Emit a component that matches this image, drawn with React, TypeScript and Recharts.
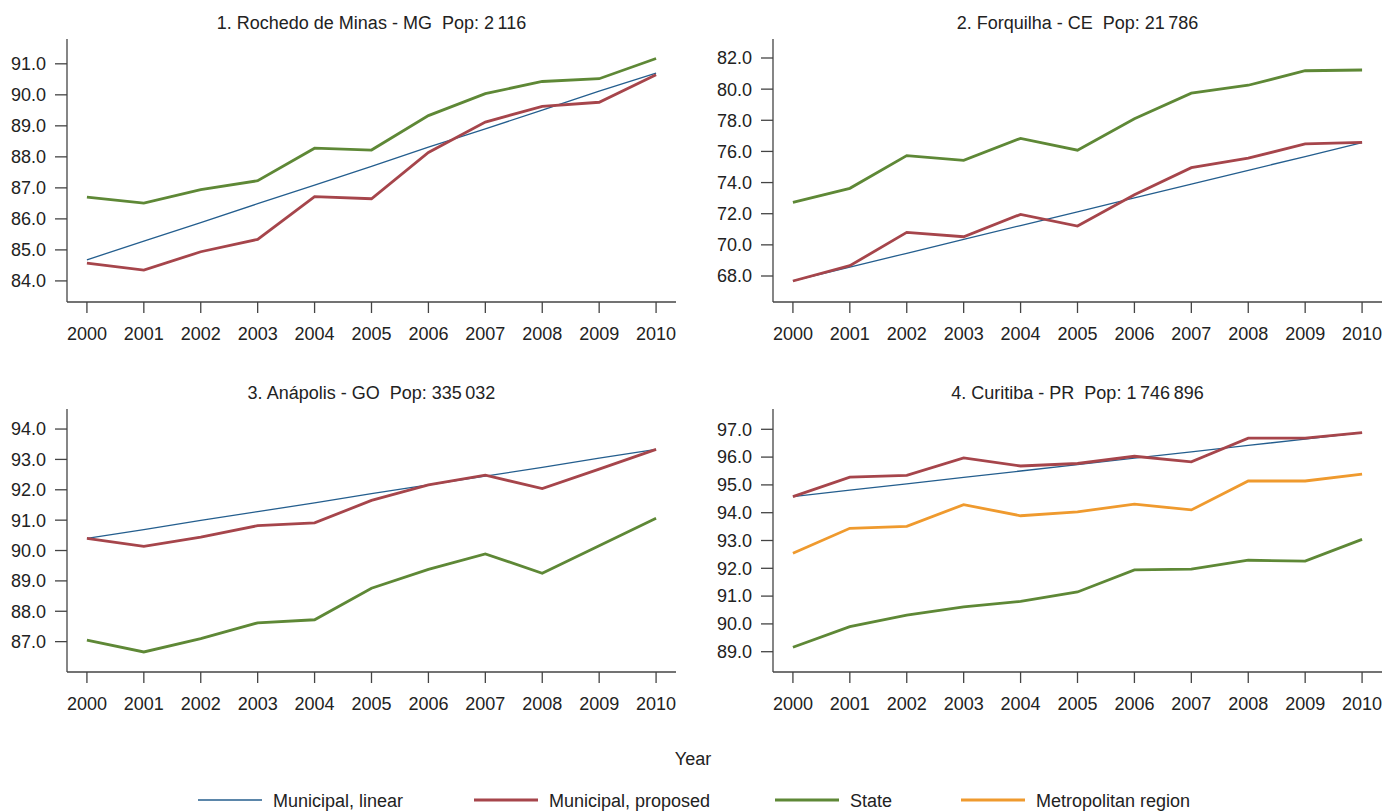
import React from 'react';
import { Line, LineChart, XAxis, YAxis } from 'recharts';

const years = [2000, 2001, 2002, 2003, 2004, 2005, 2006, 2007, 2008, 2009, 2010];

// 1. Rochedo de Minas - MG
const p1Linear = [84.68, 85.28, 85.88, 86.49, 87.09, 87.69, 88.31, 88.9, 89.51, 90.12, 90.7];
const p1Proposed = [84.57, 84.35, 84.94, 85.34, 86.72, 86.65, 88.14, 89.12, 89.63, 89.76, 90.65];
const p1State = [86.7, 86.51, 86.94, 87.23, 88.28, 88.22, 89.33, 90.04, 90.43, 90.52, 91.17];

// 2. Forquilha - CE
const p2Linear = [67.68, 68.57, 69.46, 70.35, 71.24, 72.12, 73.01, 73.9, 74.79, 75.67, 76.56];
const p2Proposed = [67.68, 68.66, 70.8, 70.52, 71.96, 71.21, 73.22, 74.96, 75.57, 76.48, 76.58];
const p2State = [72.73, 73.63, 75.73, 75.43, 76.84, 76.08, 78.1, 79.74, 80.25, 81.18, 81.23];

// 3. Anápolis - GO
const p3Linear = [90.4, 90.69, 90.99, 91.28, 91.57, 91.87, 92.16, 92.45, 92.74, 93.04, 93.33];
const p3Proposed = [90.4, 90.14, 90.44, 90.82, 90.91, 91.65, 92.16, 92.48, 92.04, 92.68, 93.33];
const p3State = [87.05, 86.66, 87.1, 87.62, 87.72, 88.76, 89.38, 89.89, 89.25, 90.16, 91.06];

// 4. Curitiba - PR
const p4Linear = [94.58, 94.81, 95.04, 95.27, 95.5, 95.73, 95.96, 96.19, 96.42, 96.65, 96.88];
const p4Proposed = [94.58, 95.28, 95.34, 95.97, 95.68, 95.77, 96.03, 95.83, 96.68, 96.68, 96.88];
const p4State = [89.16, 89.9, 90.32, 90.61, 90.81, 91.15, 91.94, 91.97, 92.29, 92.26, 93.04];
const p4Metro = [92.54, 93.44, 93.51, 94.29, 93.89, 94.03, 94.31, 94.1, 95.14, 95.14, 95.39];

const titles = [
  '1. Rochedo de Minas - MG\u00a0\u00a0Pop: 2\u2009116',
  '2. Forquilha - CE\u00a0\u00a0Pop: 21\u2009786',
  '3. Anápolis - GO\u00a0\u00a0Pop: 335\u2009032',
  '4. Curitiba - PR\u00a0\u00a0Pop: 1\u2009746\u2009896',
];

const yTicks1 = [84, 85, 86, 87, 88, 89, 90, 91];
const yTicks2 = [68, 70, 72, 74, 76, 78, 80, 82];
const yTicks3 = [87, 88, 89, 90, 91, 92, 93, 94];
const yTicks4 = [89, 90, 91, 92, 93, 94, 95, 96, 97];

const legendLabels = ['Municipal, linear', 'Municipal, proposed', 'State', 'Metropolitan region'];

const FONT = '"Liberation Sans", Arial, Helvetica, sans-serif';
const C_LINEAR = '#245e8e';
const C_PROPOSED = '#a6454b';
const C_STATE = '#5e8836';
const C_METRO = '#ef9a2e';
const AXIS = '#444';

type Panel = {
  left: number;
  top: number;
  title: string;
  domain: [number, number];
  ticks: number[];
  linear: number[];
  proposed: number[];
  state: number[];
  metro?: number[];
};

const panels: Panel[] = [
  { left: 0, top: 0, title: titles[0], domain: [83.32, 91.8], ticks: yTicks1, linear: p1Linear, proposed: p1Proposed, state: p1State },
  { left: 706, top: 0, title: titles[1], domain: [66.33, 83.22], ticks: yTicks2, linear: p2Linear, proposed: p2Proposed, state: p2State },
  { left: 0, top: 370, title: titles[2], domain: [86.0, 94.66], ticks: yTicks3, linear: p3Linear, proposed: p3Proposed, state: p3State },
  { left: 706, top: 370, title: titles[3], domain: [88.27, 97.73], ticks: yTicks4, linear: p4Linear, proposed: p4Proposed, state: p4State, metro: p4Metro },
];

const tickStyle = { fill: '#222', fontSize: 18, fontFamily: FONT };

function PanelChart({ p }: { p: Panel }) {
  const data = years.map((y, i) => ({
    year: y,
    linear: p.linear[i],
    proposed: p.proposed[i],
    state: p.state[i],
    metro: p.metro ? p.metro[i] : undefined,
  }));
  return (
    <div style={{ position: 'absolute', left: p.left, top: p.top }}>
      <LineChart width={700} height={350} data={data} margin={{ top: 39, right: 24, bottom: 8, left: 0 }}>
        <XAxis
          dataKey="year"
          type="number"
          domain={[1999.65, 2010.35]}
          ticks={years}
          interval={0}
          height={40}
          tickSize={11}
          tickMargin={14}
          tick={tickStyle}
          stroke={AXIS}
          strokeWidth={1.3}
          allowDataOverflow
        />
        <YAxis
          type="number"
          domain={p.domain}
          ticks={p.ticks}
          interval={0}
          width={67}
          tickSize={12}
          tickMargin={9}
          tick={tickStyle}
          tickFormatter={(v: number) => v.toFixed(1)}
          stroke={AXIS}
          strokeWidth={1.3}
          allowDataOverflow
        />
        <Line dataKey="linear" type="linear" stroke={C_LINEAR} strokeWidth={1.3} dot={false} isAnimationActive={false} />
        <Line dataKey="proposed" type="linear" stroke={C_PROPOSED} strokeWidth={2.8} dot={false} isAnimationActive={false} />
        <Line dataKey="state" type="linear" stroke={C_STATE} strokeWidth={2.8} dot={false} isAnimationActive={false} />
        {p.metro && (
          <Line dataKey="metro" type="linear" stroke={C_METRO} strokeWidth={2.8} dot={false} isAnimationActive={false} />
        )}
      </LineChart>
    </div>
  );
}

const legendItems = [
  { x: 198, color: C_LINEAR, width: 1.3 },
  { x: 474, color: C_PROPOSED, width: 2.8 },
  { x: 775, color: C_STATE, width: 2.8 },
  { x: 961, color: C_METRO, width: 2.8 },
];

export default function App() {
  return (
    <div
      style={{
        position: 'fixed',
        left: 0,
        top: 0,
        width: 1396,
        height: 812,
        background: '#fff',
        fontFamily: FONT,
        overflow: 'hidden',
      }}
    >
      {panels.map((p, i) => (
        <PanelChart key={i} p={p} />
      ))}
      <svg width={1396} height={812} style={{ position: 'absolute', left: 0, top: 0, pointerEvents: 'none' }}>
        {panels.map((p, i) => (
          <text key={i} x={p.left + 371.5} y={p.top + 28.5} textAnchor="middle" fontSize={18} fontFamily={FONT} fill="#222">
            {p.title}
          </text>
        ))}
        <text x={693} y={764.5} textAnchor="middle" fontSize={18} fontFamily={FONT} fill="#222">
          Year
        </text>
        {legendItems.map((it, i) => (
          <g key={i}>
            <line x1={it.x} x2={it.x + 64} y1={800} y2={800} stroke={it.color} strokeWidth={it.width} />
            <text x={it.x + 75} y={806.5} fontSize={18} fontFamily={FONT} fill="#222">
              {legendLabels[i]}
            </text>
          </g>
        ))}
      </svg>
    </div>
  );
}
